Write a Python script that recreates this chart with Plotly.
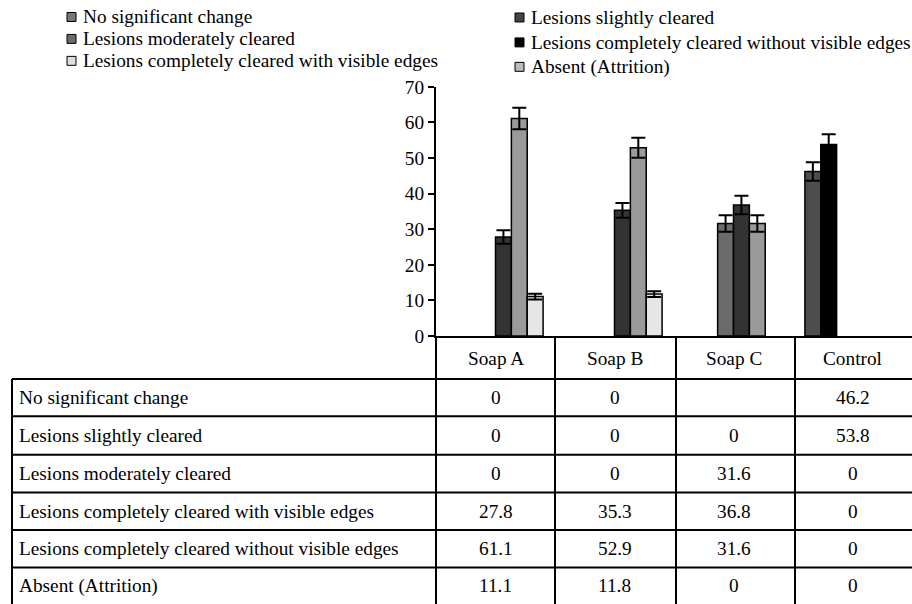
import plotly.graph_objects as go

# ---------------- data ----------------
categories = ["Soap A", "Soap B", "Soap C", "Control"]

series_names = [
    "No significant change",
    "Lesions slightly cleared",
    "Lesions moderately cleared",
    "Lesions completely cleared with visible edges",
    "Lesions completely cleared without visible edges",
    "Absent (Attrition)",
]

no_change = [0, 0, None, 46.2]
slightly_cleared = [0, 0, 0, 53.8]
moderately_cleared = [0, 0, 31.6, 0]
cleared_with_edges = [27.8, 35.3, 36.8, 0]
cleared_without_edges = [61.1, 52.9, 31.6, 0]
absent = [11.1, 11.8, 0, 0]

err_no_change = [0, 0, 0, 2.6]
err_slightly_cleared = [0, 0, 0, 2.9]
err_moderately_cleared = [0, 0, 2.3, 0]
err_cleared_with_edges = [1.9, 2.1, 2.6, 0]
err_cleared_without_edges = [3.0, 2.8, 2.3, 0]
err_absent = [0.8, 0.8, 0, 0]

y_ticks = [0, 10, 20, 30, 40, 50, 60, 70]

values = [no_change, slightly_cleared, moderately_cleared,
          cleared_with_edges, cleared_without_edges, absent]
errors = [err_no_change, err_slightly_cleared, err_moderately_cleared,
          err_cleared_with_edges, err_cleared_without_edges, err_absent]

# ---------------- styles ----------------
W, H = 912, 604
FONT = "Liberation Serif, Times New Roman, serif"
FS = 19.3
bar_colors = ["#4d4d4d", "#000000", "#6b6b6b", "#333333", "#9a9a9a", "#e6e6e6"]
legend_colors = ["#777777", "#444444", "#6a6a6a", "#dddddd", "#000000", "#bbbbbb"]
# legend placement (pixels): swatch left x, row centre y, text x
legend_pos = [(67, 17, 81), (515, 17.5, 529), (67, 39, 81),
              (67, 61, 81), (515, 42.5, 529), (515, 67, 529)]

# vertical calibration of the captured picture
Y0, YS = 10.0, 0.968


def px(x):
    return x / W


def py(y):
    return 1 - ((y - Y0) / YS) / H


fig = go.Figure()
for name, vals, errs, col in zip(series_names, values, errors, bar_colors):
    yv = [v if v else None for v in vals]
    ev = [e if v else None for v, e in zip(vals, errs)]
    fig.add_trace(go.Bar(
        x=categories, y=yv, name=name, showlegend=False,
        marker=dict(color=col, line=dict(color="black", width=1.5)),
        error_y=dict(type="data", array=ev, visible=True, color="black",
                     thickness=2, width=7),
    ))

shapes = []
annotations = []

# ---------------- legend (swatches + labels) ----------------
for name, col, (sx, sy, tx) in zip(series_names, legend_colors, legend_pos):
    shapes.append(dict(type="rect", xref="paper", yref="paper",
                       x0=px(sx), x1=px(sx + 9), y0=py(sy - 4.5), y1=py(sy + 4.5),
                       fillcolor=col, line=dict(color="black", width=1)))
    annotations.append(dict(x=px(tx), xref="paper", y=py(sy), yref="paper",
                            text=name, showarrow=False, xanchor="left",
                            yanchor="middle", font=dict(size=FS)))

# ---------------- table (drawn as lines + text) ----------------
row_lines = [380, 417.5, 456, 494, 531.5, 569, 606]
col_lines = [555, 676, 795]
line = dict(color="black", width=2)
for yl in row_lines[:-1]:
    shapes.append(dict(type="line", xref="paper", yref="paper",
                       x0=px(12), x1=px(912), y0=py(yl), y1=py(yl), line=line))
shapes.append(dict(type="line", xref="paper", yref="paper",
                   x0=px(12), x1=px(12), y0=py(380), y1=py(615), line=line))
shapes.append(dict(type="line", xref="paper", yref="paper",
                   x0=px(436), x1=px(436), y0=py(337), y1=py(615), line=line))
for xl in col_lines:
    shapes.append(dict(type="line", xref="paper", yref="paper",
                       x0=px(xl), x1=px(xl), y0=py(337), y1=py(615), line=line))

for c in categories:
    annotations.append(dict(x=c, xref="x", y=py(359), yref="paper",
                            text=c, showarrow=False, xanchor="center",
                            yanchor="middle", font=dict(size=FS)))
for i, (name, vals) in enumerate(zip(series_names, values)):
    yc = py((row_lines[i] + row_lines[i + 1]) / 2)
    annotations.append(dict(x=px(17), xref="paper", y=yc, yref="paper",
                            text=name, showarrow=False, xanchor="left",
                            yanchor="middle", font=dict(size=FS)))
    for c, v in zip(categories, vals):
        if v is None:
            continue
        annotations.append(dict(x=c, xref="x", y=yc, yref="paper",
                                text=f"{v:g}", showarrow=False,
                                xanchor="center", yanchor="middle",
                                font=dict(size=FS)))

fig.update_layout(
    width=W, height=H,
    margin=dict(l=0, r=0, t=0, b=0),
    paper_bgcolor="white", plot_bgcolor="white",
    font=dict(family=FONT, size=FS, color="black"),
    showlegend=False,
    barmode="group", bargap=0.2, bargroupgap=0,
    xaxis=dict(domain=[px(436), 1], type="category", range=[-0.5, 3.5],
               showline=True, linecolor="black", linewidth=2,
               showticklabels=False, ticks="", showgrid=False),
    yaxis=dict(domain=[py(337), py(87)], range=[0, 70],
               tickvals=y_ticks, ticks="outside", ticklen=6, tickwidth=1.5,
               tickcolor="black", showline=True, linecolor="black",
               linewidth=2, showgrid=False, zeroline=False,
               tickfont=dict(size=FS)),
    shapes=shapes,
    annotations=annotations,
)

fig.write_html("out.html", config={"displayModeBar": False},
               post_script="document.body.style.margin='0px';")
